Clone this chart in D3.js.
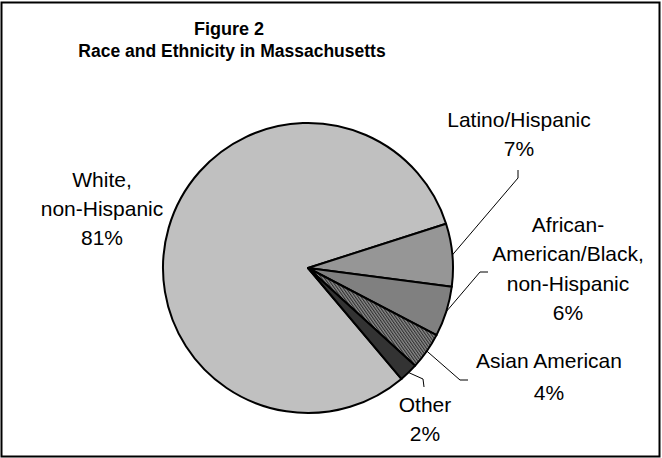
<!DOCTYPE html>
<html>
<head>
<meta charset="utf-8">
<script src="https://cdn.jsdelivr.net/npm/d3@7"></script>
<style>
  html, body { margin: 0; padding: 0; background: #fff; }
  svg { display: block; }
  text { font-family: "Liberation Sans", Arial, sans-serif; fill: #000; }
</style>
</head>
<body>
<svg id="chart" width="662" height="458"></svg>
<script>
// ---- Data ----
const titleLines = ["Figure 2", "Race and Ethnicity in Massachusetts"];
const categories = ["White, non-Hispanic", "Latino/Hispanic", "African-American/Black, non-Hispanic", "Asian American", "Other"];
const values = [81.2, 7.0, 5.6, 4.1, 2.1];
const labelLines = [
  ["White,", "non-Hispanic"],
  ["Latino/Hispanic"],
  ["African-", "American/Black,", "non-Hispanic"],
  ["Asian American"],
  ["Other"]
];

// ---- Layout / style ----
const W = 662, H = 458;
const cx = 308, cy = 268, R = 145;
const startDeg = -220.1;
const fills = ["#c0c0c0", "#969696", "#808080", "url(#hatch)", "#333333"];
// label anchor: center x, first baseline y, line height; leader polyline end points
const labelPos = [
  { x: 102, y: 187, lh: 29, leader: null },
  { x: 519, y: 127, lh: 28.5, leader: [[518, 170], [518, 178]] },
  { x: 568, y: 232, lh: 29.3, leader: [[488, 272], [480, 272]] },
  { x: 549, y: 368, lh: 32, leader: [[468, 380], [460, 380]] },
  { x: 425, y: 412, lh: 28.5, leader: [[424, 387], [423, 379]] }
];

const svg = d3.select("#chart");
const defs = svg.append("defs");
const pat = defs.append("pattern").attr("id", "hatch")
  .attr("patternUnits", "userSpaceOnUse").attr("width", 2.4).attr("height", 2.4)
  .attr("patternTransform", "rotate(-35)");
pat.append("rect").attr("width", 2.4).attr("height", 2.4).attr("fill", "#8c8c8c");
pat.append("rect").attr("width", 1.1).attr("height", 2.4).attr("fill", "#303030");

// frame
svg.append("rect").attr("x", 1.5).attr("y", 2.5).attr("width", 658).attr("height", 454)
  .attr("fill", "#fff").attr("stroke", "#000").attr("stroke-width", 2);

// title
svg.append("text").attr("x", 229).attr("y", 35).attr("text-anchor", "middle")
  .style("font-weight", "bold").style("font-size", "18px").text(titleLines[0]);
svg.append("text").attr("x", 232).attr("y", 57).attr("text-anchor", "middle")
  .style("font-weight", "bold").style("font-size", "17.5px").text(titleLines[1]);

const data = categories.map((c, i) => ({ cat: c, value: values[i], i }));
const pie = d3.pie().sort(null).value(d => d.value)
  .startAngle(startDeg * Math.PI / 180)
  .endAngle((startDeg + 360) * Math.PI / 180);
const arcs = pie(data);
const arc = d3.arc().innerRadius(0).outerRadius(R);

const g = svg.append("g").attr("transform", `translate(${cx},${cy})`);
g.selectAll("path.slice").data(arcs).join("path")
  .attr("class", "slice")
  .attr("d", arc)
  .attr("fill", d => fills[d.data.i])
  .attr("stroke", "#000").attr("stroke-width", 2).attr("stroke-linejoin", "round");

// leader lines
arcs.forEach(a => {
  const lp = labelPos[a.data.i];
  if (!lp.leader) return;
  const mid = (a.startAngle + a.endAngle) / 2;
  const px = cx + R * Math.sin(mid), py = cy - R * Math.cos(mid);
  const pts = [lp.leader[0], lp.leader[1], [px, py]];
  svg.append("path").attr("d", d3.line()(pts))
    .attr("fill", "none").attr("stroke", "#000").attr("stroke-width", 1);
});

// labels
arcs.forEach(a => {
  const i = a.data.i;
  const lp = labelPos[i];
  const lines = labelLines[i].concat([Math.round(a.data.value) + "%"]);
  const t = svg.append("text").attr("text-anchor", "middle").style("font-size", "21px");
  lines.forEach((ln, k) => {
    t.append("tspan").attr("x", lp.x).attr("y", lp.y + k * lp.lh).text(ln);
  });
});
</script>
</body>
</html>
